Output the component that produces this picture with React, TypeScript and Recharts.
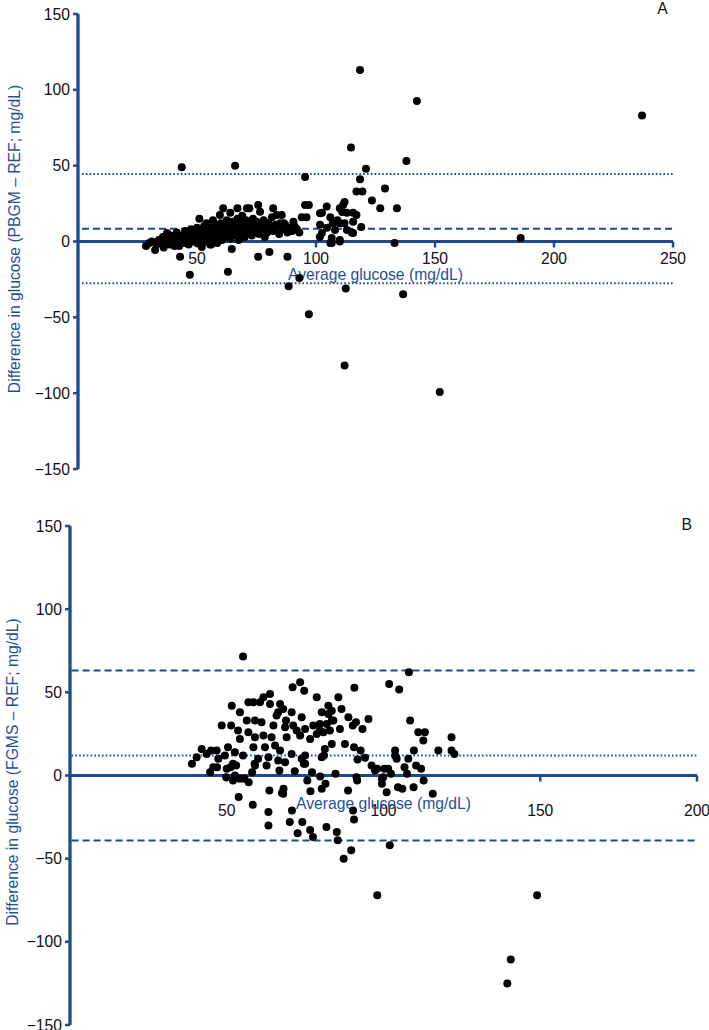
import React from "react";
import { ScatterChart, Scatter, XAxis, YAxis, ReferenceLine, ReferenceDot } from "recharts";

const BLUE = "#1b4a8e";
const TEXT_BLUE = "#1f4f9b";
const FONT = "'Liberation Sans', Arial, sans-serif";

const diffTicks = [-150, -100, -50, 0, 50, 100, 150];
const avgTicksA = [50, 100, 150, 200, 250];
const avgTicksB = [50, 100, 150, 200];

const biasA = 8.4;
const loaA = [-27.6, 44.5];
const biasB = 12;
const loaB = [-39.1, 63.1];

// [average glucose, difference] panel A (PBGM - REF)
const pointsA: [number, number][] = [
  [118.5, 113], [142.4, 92.7], [237, 83], [114.7, 62], [138, 53], [121, 48], [118.5, 41], [117, 33], [119.5, 33],
  [129, 35], [123.5, 27], [127, 22], [134, 22], [112, 26], [115.6, 19], [119, 9.6], [115.6, 5.6], [133, -1],
  [186, 2.3], [43.6, 49], [66, 50], [95.4, 42.6], [136.6, -34.7], [152, -99.3], [112, -81.7], [112.5, -31],
  [97, -48], [93, -24], [88.5, -29.5], [47, -22], [63, -20], [42.9, -10], [75.7, -10], [80.4, -7], [88, -10],
  [64.6, -5], [106, -1], [110, 0],
  [95.4, 24], [97, 24], [104.5, 23], [94, 16], [96, 16], [102.5, 19], [110, 22], [111, 19.5], [113, 19],
  [106, 16], [109, 14], [107, 12], [110, 12], [90.5, 13], [85.6, 17.5], [93, 6], [101.7, 11], [104.6, 9],
  [102.5, 5.6], [101.6, 3], [106.6, 2.3], [106.6, -1], [110, 1], [108, 7.6], [112, 12], [113, 7.6], [115, 6],
  [115.6, 13], [117, 17.5], [111.4, 24], [101.7, 18.7], [86, 8], [87, 11], [88, 6], [89, 9], [90, 7], [91, 10],
  [92, 8], [86.5, 12], [84, 10],
  [28.6, -3], [30, -1], [31, 0], [32.4, -5.6], [33, -2], [34, 1], [35, -1], [35.7, 3], [36, -4], [37.4, 5.6],
  [37, 0], [38, 2], [38.5, -2], [39, 4], [40, 1], [40.5, -3], [41, 3], [41.5, 6], [42, 0], [42.5, -3], [43, 2],
  [44, 4], [44.5, -1], [45, 7], [45.5, 1], [46, 3], [46.5, -2], [47, 5], [47.5, 8], [48, 0], [48.5, 2], [49, 6],
  [49.5, 4], [50, -1], [50, 9], [50.5, 3], [51, 15], [51, 6], [51.5, 1], [52, -3.6], [52, 4], [52.5, 8], [53, 10],
  [53, 2], [53.5, 5], [54, 12], [54, 0], [54.5, 7], [55, 3], [55, 9], [55.5, -2], [56, 5], [56, -2], [56.7, 14],
  [57, 8], [57, 1], [57.5, 11], [58, 4], [58, 6], [58.5, -1], [59, 9], [59.6, 17.5], [59.5, 3], [60, 7], [60, 12],
  [60.5, 1], [61, 22], [61, 5], [61.5, 10], [62, 3], [62, 8], [62.5, 14], [63, 6], [63.5, 11], [64, 19], [64, 2],
  [65, 8], [65, 13], [65.5, 4], [66, 10], [66.5, 6], [67, 22], [67, 15], [67.5, 1], [68, 9], [68, 12], [68.5, 5],
  [69, 17], [69.5, 7], [70, 11], [70, 3], [70.5, 14], [71, 22], [71, 8], [71.5, 6], [72, 22], [72, 12], [72.5, 9],
  [73, 4], [73.5, 15], [74, 10], [74.5, 7], [75, 13], [75.7, 24], [76, 5], [76.5, 19.6], [77, 11], [77.5, 8],
  [78, 14], [78.5, 3], [79, 10], [79.5, 6], [80, 12], [81, 9], [81.5, 16], [82, 22], [82, 7], [83, 11],
  [83.5, 17.5], [84.5, 5], [85, 12],
];

// [average glucose, difference] panel B (FGMS - REF)
const pointsB: [number, number][] = [
  [55.2, 71.6], [38.9, 7], [40.4, 11], [42, 16], [43.6, 13], [45, 15], [46.8, 15], [47.3, 10], [48.4, 30],
  [50.4, 17], [51.6, 42], [51.4, 30], [54.2, 38], [49.4, 12], [52, 7], [53, 6], [55.2, 12], [52.6, 14],
  [53.6, 27], [56.4, 33], [56.9, 44], [54.2, 22], [56.9, 26],
  [73.4, 56], [71, 53], [74.7, 51], [63.8, 49], [58.5, 44], [60.6, 44], [61.7, 47], [63.8, 43], [67, 43],
  [68, 40], [66.4, 38], [70.7, 38], [78.7, 47], [85.6, 47], [82.4, 42], [80.3, 38], [83.5, 39], [73.9, 35],
  [59, 33], [61.1, 32], [64.9, 30], [68.6, 29], [71.2, 30], [75, 28], [77.6, 30], [79.7, 31], [81.9, 31],
  [83.5, 33], [78.7, 25], [80.8, 26], [82.9, 27], [59, 23], [61.7, 24], [64.3, 23], [69.1, 23], [73.4, 24],
  [76.6, 22], [83.5, 19], [58.5, 17], [62.2, 17], [65.4, 18], [67, 15], [70.7, 13], [75, 12], [81, 12],
  [60, 10], [63.3, 11], [66.4, 9], [68.6, 8], [75, 7], [59, 6], [65.9, 36], [68.9, 33], [72.3, 27],
  [82.4, 37], [79.7, 27], [84, 33], [81.3, 16], [80.3, 11], [73.9, 10],
  [108.1, 62], [101.8, 55], [105, 51.7], [90.7, 52.7], [86.6, 40], [88.8, 35], [91.2, 32], [90.2, 30],
  [93.3, 28], [95.2, 34], [86.1, 28], [87.7, 19], [90.6, 17], [92.7, 15], [91.7, 9.6], [94.1, 10.6], [96.2, 6],
  [103.7, 15], [103.7, 12], [108.5, 33], [111.1, 26], [113.2, 26], [112.7, 21], [109.7, 15], [107.9, 10],
  [104.2, 10], [117.5, 15], [121.7, 23], [121.7, 15], [122.6, 13], [110.4, 6],
  [98, -72], [149, -72], [140.6, -110.6], [139.5, -125], [102, -42], [87.3, -50], [89.7, -45], [85.4, -39],
  [85.1, -34], [81.8, -31], [77.5, -37], [76.6, -32.7], [72.6, -34.7], [70.1, -28], [74.1, -28], [63.3, -30],
  [63.3, -22], [70.8, -21], [58.3, -17.6], [53.8, -13], [63.6, -9], [68.1, -8], [67.6, -10.5], [76.7, -9.4],
  [80.3, -8], [81.5, -5], [75.7, -3], [79.8, -0.6], [84.7, 1], [88.7, -9], [91.6, -3], [99.5, -2], [99.5, -5],
  [101, -10], [104.6, -7], [106, -8], [109.6, -7], [112.8, -3], [115.7, -11], [112, 4], [107.5, 1], [106.7, 5],
  [102.4, 1], [100.3, 4], [98, 4], [97.3, 3], [55.6, -2], [57, -4], [52, -3], [49.8, -1], [51.2, 5], [46.9, 5],
  [44.7, 2], [58.1, 2], [58.9, 7], [62.7, 6], [66.8, 3], [71.7, 2.6], [77.2, 2], [74.6, 7], [90.3, -21],
  [90.6, -26.5], [52.6, 0], [54.2, -2], [50, 4], [45.7, 5], [68, -11], [99.9, -1], [91.4, -1], [101.5, 4],
];

const toData = (pts: [number, number][]) => pts.map(([x, y]) => ({ x, y }));

const fmt = (v: number) => (v < 0 ? `\u2212${Math.abs(v)}` : `${v}`);

const Dot = (props: any) => <circle cx={props.cx} cy={props.cy} r={4} fill="#000" />;

const DASHED = "7 4";
const DOTTED = "1.6 2.2";

type PanelProps = {
  points: [number, number][];
  xMax: number;
  xTicks: number[];
  bias: number;
  loa: number[];
  biasDash: string;
  loaDash: string;
  tickDy: number;
  titleDy: number;
  height: number;
  margin: { top: number; right: number; bottom: number; left: number };
  lineStart: number;
};

function Panel(p: PanelProps) {
  return (
    <ScatterChart width={709} height={p.height} margin={p.margin}>
      <XAxis type="number" dataKey="x" domain={[0, p.xMax]} hide />
      <YAxis
        type="number"
        dataKey="y"
        domain={[-150, 150]}
        ticks={diffTicks}
        interval={0}
        width={60}
        axisLine={{ stroke: BLUE, strokeWidth: 3.3 }}
        tickLine={{ stroke: BLUE, strokeWidth: 2.5 }}
        tickSize={5}
        tickMargin={3}
        tick={{ fill: "#111", fontSize: 15.7, fontFamily: FONT }}
        tickFormatter={fmt}
      />
      <ReferenceLine
        segment={[{ x: p.lineStart, y: p.loa[1] }, { x: p.xMax, y: p.loa[1] }]}
        stroke={BLUE}
        strokeWidth={2}
        strokeDasharray={p.loaDash}
      />
      <ReferenceLine
        segment={[{ x: p.lineStart, y: p.loa[0] }, { x: p.xMax, y: p.loa[0] }]}
        stroke={BLUE}
        strokeWidth={2}
        strokeDasharray={p.loaDash}
      />
      <ReferenceLine
        segment={[{ x: p.lineStart, y: p.bias }, { x: p.xMax, y: p.bias }]}
        stroke={BLUE}
        strokeWidth={2}
        strokeDasharray={p.biasDash}
      />
      <ReferenceLine y={0} stroke={BLUE} strokeWidth={3} />
      {p.xTicks.map((t) => (
        <ReferenceDot
          key={t}
          x={t}
          y={0}
          r={1}
          shape={(d: any) => (
            <g>
              <line x1={d.cx} x2={d.cx} y1={d.cy} y2={d.cy + 6} stroke={BLUE} strokeWidth={2.5} />
              <text
                x={d.cx}
                y={d.cy + p.tickDy}
                textAnchor="middle"
                dominantBaseline="central"
                fill="#111"
                fontSize={15.7}
                fontFamily={FONT}
              >
                {t}
              </text>
            </g>
          )}
        />
      ))}
      <ReferenceDot
        x={p.xMax / 2}
        y={0}
        r={1}
        shape={(d: any) => (
          <text
            x={d.cx}
            y={d.cy + p.titleDy}
            textAnchor="middle"
            dominantBaseline="central"
            fill={TEXT_BLUE}
            fontSize={15.7}
            fontFamily={FONT}
          >
            Average glucose (mg/dL)
          </text>
        )}
      />
      <Scatter data={toData(p.points)} shape={Dot} isAnimationActive={false} />
    </ScatterChart>
  );
}

export default function App() {
  return (
    <div style={{ position: "absolute", left: 0, top: 0, width: 709, height: 1030, background: "#fff", overflow: "hidden" }}>
      <div style={{ position: "absolute", left: 0, top: 0 }}>
        <Panel
          points={pointsA}
          xMax={250}
          xTicks={avgTicksA}
          bias={biasA}
          loa={loaA}
          biasDash={DASHED}
          loaDash={DOTTED}
          tickDy={16.5}
          titleDy={32.5}
          height={500}
          margin={{ top: 14, right: 36, bottom: 31, left: 18 }}
          lineStart={1.7}
        />
      </div>
      <div style={{ position: "absolute", left: 0, top: 500 }}>
        <Panel
          points={pointsB}
          xMax={200}
          xTicks={avgTicksB}
          bias={biasB}
          loa={loaB}
          biasDash={DOTTED}
          loaDash={DASHED}
          tickDy={35}
          titleDy={28}
          height={530}
          margin={{ top: 26, right: 12, bottom: 5, left: 10 }}
          lineStart={0.5}
        />
      </div>
      <svg width={709} height={1030} style={{ position: "absolute", left: 0, top: 0, pointerEvents: "none" }}>
        <text
          transform="translate(14.5,239) rotate(-90)"
          textAnchor="middle"
          dominantBaseline="central"
          fill={TEXT_BLUE}
          fontSize={15.7}
          fontFamily={FONT}
        >
          Difference in glucose (PBGM – REF; mg/dL)
        </text>
        <text
          transform="translate(12,772) rotate(-90)"
          textAnchor="middle"
          dominantBaseline="central"
          fill={TEXT_BLUE}
          fontSize={15.7}
          fontFamily={FONT}
        >
          Difference in glucose (FGMS – REF; mg/dL)
        </text>
        <text x={662.5} y={8} textAnchor="middle" dominantBaseline="central" fill="#111" fontSize={15.7} fontFamily={FONT}>
          A
        </text>
        <text x={686.7} y={524} textAnchor="middle" dominantBaseline="central" fill="#111" fontSize={15.7} fontFamily={FONT}>
          B
        </text>
      </svg>
    </div>
  );
}
